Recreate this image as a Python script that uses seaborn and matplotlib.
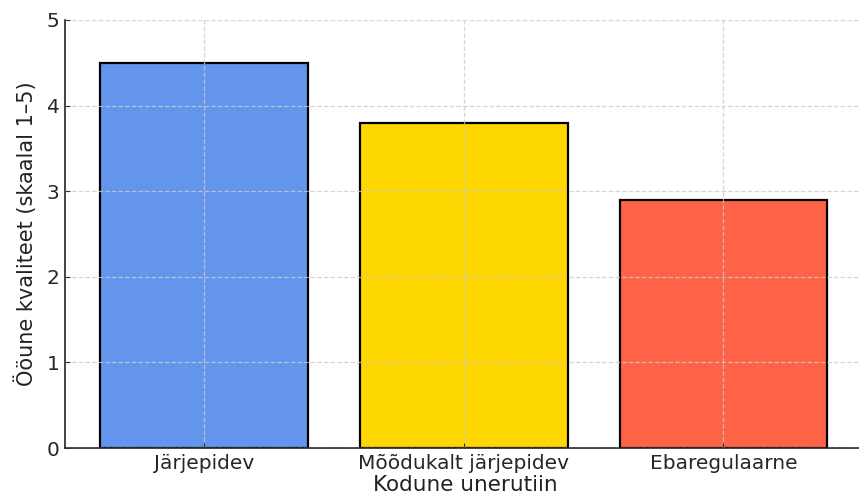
import matplotlib
matplotlib.use("Agg")
import matplotlib.pyplot as plt
import seaborn as sns
import pandas as pd

categories = ["Järjepidev", "Mõõdukalt järjepidev", "Ebaregulaarne"]
values = [4.5, 3.8, 2.9]
colors = ["#6495ED", "#FFD700", "#FF6347"]
yticks = [0, 1, 2, 3, 4, 5]

sns.set_style("ticks")
plt.rcParams['font.family'] = ['DejaVu Sans']

df = pd.DataFrame({"Kodune unerutiin": categories, "value": values})

fig = plt.figure(figsize=(8.59, 4.97), dpi=100)
ax = fig.add_axes([65/859, 49/497, 800/859, 428/497])
sns.barplot(data=df, x="Kodune unerutiin", y="value", hue="Kodune unerutiin",
            palette=colors, edgecolor="black", linewidth=1.6, width=0.8,
            legend=False, ax=ax, saturation=1)
ax.set_xlim(-0.535, 2.545)
ax.set_ylim(0, 5)
ax.set_yticks(yticks)
ax.set_axisbelow(False)
ax.grid(True, linestyle="--", color="#cccccc", alpha=0.8, linewidth=0.9)
ax.tick_params(direction="in", labelsize=14.5, color="#333333", pad=4)
ax.set_xlabel("Kodune unerutiin", fontsize=15.5, color="#222222", labelpad=1.5)
ax.set_ylabel("Ööune kvaliteet (skaalal 1–5)", fontsize=15, color="#222222", labelpad=7)
for s in ["top", "right"]:
    ax.spines[s].set_visible(False)
for s in ["left", "bottom"]:
    ax.spines[s].set_color("#222222")
    ax.spines[s].set_linewidth(1.2)
fig.savefig("out.png", dpi=100)
